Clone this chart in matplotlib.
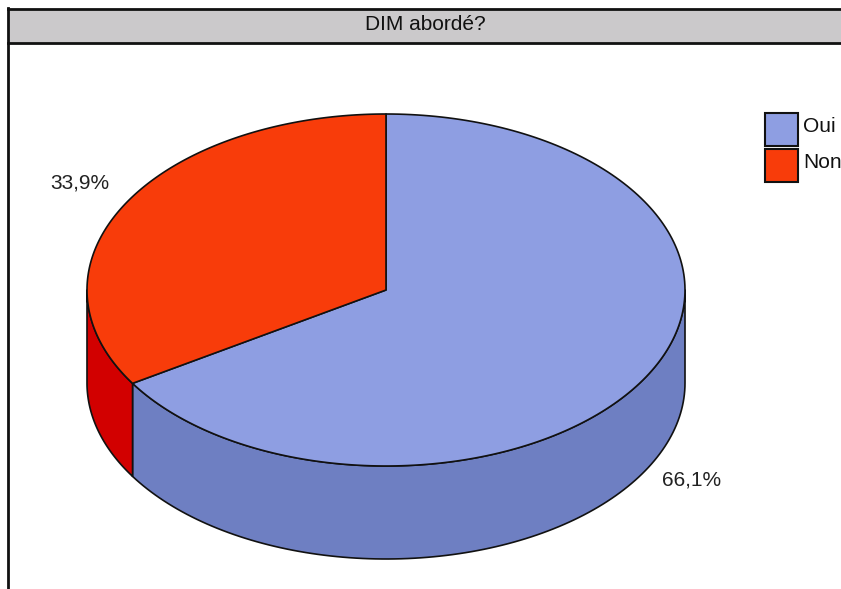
import numpy as np
import matplotlib
matplotlib.use("Agg")
import matplotlib.pyplot as plt
from matplotlib.patches import Polygon, Rectangle

plt.rcParams['font.family'] = ['Liberation Sans', 'DejaVu Sans']

# data
title = "DIM abordé?"
labels = ["Oui", "Non"]
values = [66.1, 33.9]
top_colors = ["#8E9EE2", "#F83C0A"]
side_colors = ["#6E7FC2", "#D20000"]

# pie geometry (pixels)
cx, cy = 386, 290
a, b = 299, 176
depth = 93
start_angle = 90

fig = plt.figure(figsize=(8.41, 5.89), dpi=100)
ax = fig.add_axes([0, 0, 1, 1])
ax.set_xlim(0, 841)
ax.set_ylim(589, 0)
ax.axis("off")

# frame and title bar
ax.add_patch(Rectangle((9, 9), 840, 34, facecolor="#CBC9CB", edgecolor="none", zorder=1))
ax.plot([8, 841], [9, 9], color="#111111", lw=2, zorder=2)
ax.plot([8, 841], [43, 43], color="#111111", lw=2, zorder=2)
ax.plot([8, 8], [8, 589], color="#111111", lw=2, zorder=2)
ax.text(425, 24, title, ha="center", va="center", fontsize=15, color="#111111", zorder=3)


def ell(t, dy=0):
    t = np.radians(t)
    return np.column_stack([cx + a * np.cos(t), cy - b * np.sin(t) + dy])


# slice angles, clockwise from 12 o'clock
total = sum(values)
angles = []
cur = start_angle
for v in values:
    sweep = 360 * v / total
    angles.append((cur - sweep, cur))
    cur -= sweep

# side walls (front half only)
for (t1, t2), col in zip(angles, side_colors):
    for k in (-1, 0, 1):
        lo = max(t1, 180 + 360 * k)
        hi = min(t2, 360 + 360 * k)
        if hi <= lo:
            continue
        ts = np.linspace(lo, hi, 120)
        pts = np.vstack([ell(ts), ell(ts[::-1], depth)])
        ax.add_patch(Polygon(pts, closed=True, facecolor=col, edgecolor="#111111",
                             lw=1.2, joinstyle="round", zorder=4))

# top faces
for (t1, t2), col in zip(angles, top_colors):
    ts = np.linspace(t1, t2, 200)
    pts = np.vstack([[[cx, cy]], ell(ts)])
    ax.add_patch(Polygon(pts, closed=True, facecolor=col, edgecolor="#111111",
                         lw=1.2, joinstyle="round", zorder=5))

# percentage labels
for (t1, t2), v in zip(angles, values):
    mid = np.radians((t1 + t2) / 2)
    x = cx + 1.17 * a * np.cos(mid)
    y = cy - 1.25 * b * np.sin(mid)
    if np.sin(mid) < 0:
        y += depth * 0.9
    ax.text(x, y, f"{v:.1f}%".replace(".", ","), ha="center", va="center",
            fontsize=15, color="#222222", zorder=6)

# legend (cropped at right edge like the original)
for i, (lab, col) in enumerate(zip(labels, top_colors)):
    y0 = 113 + i * 36
    ax.add_patch(Rectangle((765, y0), 33, 33, facecolor=col, edgecolor="#111111",
                           lw=1.5, zorder=5))
    ax.text(803, y0 + 13, lab, ha="left", va="center", fontsize=15,
            color="#111111", zorder=6)

fig.savefig("out.png", dpi=100)
